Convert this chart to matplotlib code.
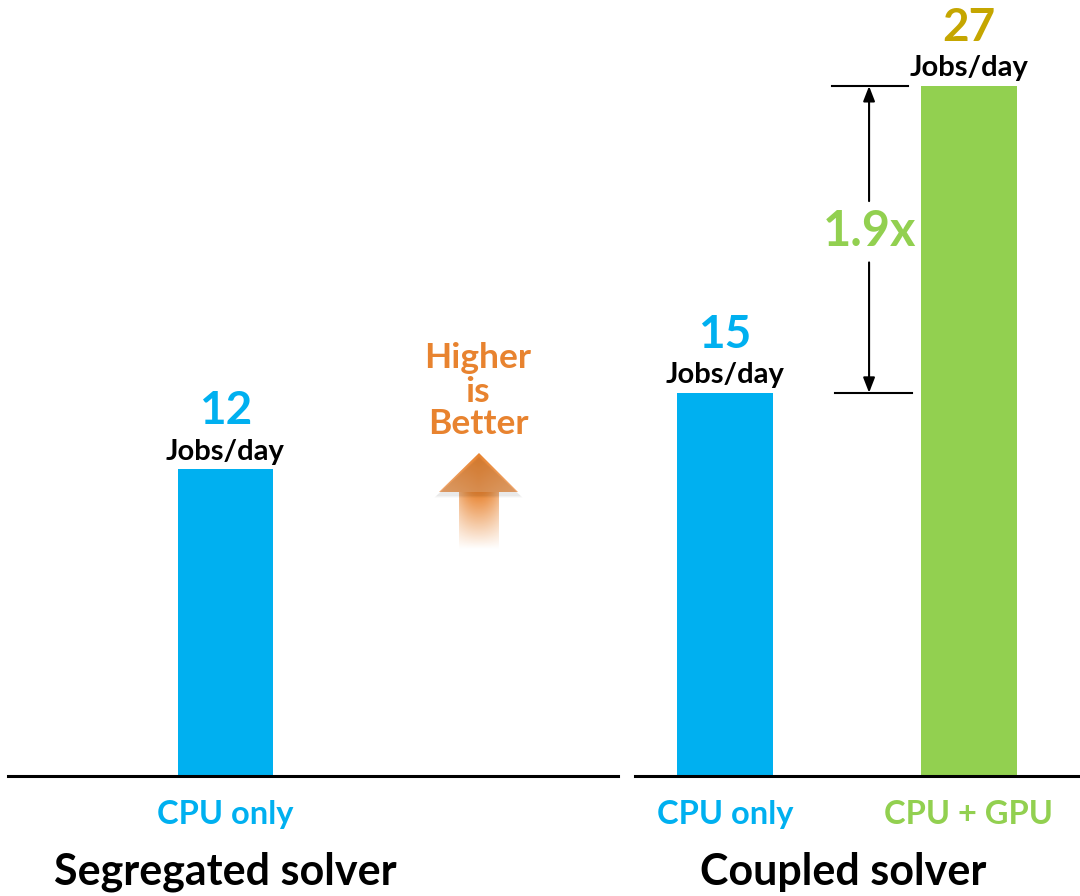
import numpy as np
import matplotlib
matplotlib.use("Agg")
import matplotlib.pyplot as plt
from matplotlib.patches import Polygon
from matplotlib.colors import to_rgb

plt.rcParams['font.family'] = ['Lato', 'DejaVu Sans']
plt.rcParams['font.weight'] = 'bold'

# Data
seg_labels = ["CPU only"]
seg_values = [12]
cpl_labels = ["CPU only", "CPU + GPU"]
cpl_values = [15, 27]
speedup_text = "1.9x"
unit = "Jobs/day"

BLUE = "#00B0F0"
GREEN = "#92D050"
GOLD = "#C5A600"
ORANGE = "#E8832F"

W, H = 1080, 896
fig = plt.figure(figsize=(W / 100, H / 100), dpi=100)

YMAX = 30.37
base_y = (H - 776) / H
ax_h = 776 / H


def setup(ax):
    ax.set_ylim(0, YMAX)
    for s in ("top", "right", "left"):
        ax.spines[s].set_visible(False)
    ax.spines["bottom"].set_linewidth(2.2)
    ax.spines["bottom"].set_color("black")
    ax.set_yticks([])
    ax.tick_params(axis="x", length=0, pad=17, labelsize=23.5)
    ax.patch.set_alpha(0)


# Left panel: segregated solver
axL = fig.add_axes([8 / W, base_y, 610 / W, ax_h])
setup(axL)
xl = np.arange(len(seg_values))
axL.bar(xl, seg_values, width=0.5, color=BLUE, zorder=1)
axL.set_xlim(-1.145, 2.066)
axL.set_xticks(xl, seg_labels)
for t in axL.get_xticklabels():
    t.set_color(BLUE)

# Right panel: coupled solver
axR = fig.add_axes([635 / W, base_y, 445 / W, ax_h])
setup(axR)
xr = np.arange(len(cpl_values))
bar_colors = [BLUE, GREEN]
axR.bar(xr, cpl_values, width=0.39, color=bar_colors, zorder=1)
axR.set_xlim(-0.369, 1.455)
axR.set_xticks(xr, cpl_labels)
for t, c in zip(axR.get_xticklabels(), bar_colors):
    t.set_color(c)


def value_labels(ax, xs, vals, colors):
    for x, v, c in zip(xs, vals, colors):
        ax.annotate(unit, (x, v), xytext=(0, 7), textcoords="offset points",
                    ha="center", va="baseline", fontsize=21, color="black")
        ax.annotate(f"{v}", (x, v), xytext=(0, 32.5), textcoords="offset points",
                    ha="center", va="baseline", fontsize=33, color=c)


value_labels(axL, xl, seg_values, [BLUE])
value_labels(axR, xr, cpl_values, [BLUE, GOLD])

# Speed-up dimension marker between the two coupled bars
tr = axR.get_yaxis_transform()
lo, hi = cpl_values
axR.plot([0.443, 0.613], [hi, hi], transform=tr, color="black", lw=1.5, clip_on=False)
axR.plot([0.449, 0.622], [lo, lo], transform=tr, color="black", lw=1.5, clip_on=False)
mid = (lo + hi) / 2 + 0.3
gap = 1.2
arrow_kw = dict(arrowstyle="-|>,head_length=0.9,head_width=0.35", color="black", lw=1.5,
                shrinkA=0, shrinkB=0)
axR.annotate("", xy=(0.526, hi), xytext=(0.526, mid + gap), xycoords=tr, textcoords=tr,
             arrowprops=arrow_kw)
axR.annotate("", xy=(0.526, lo), xytext=(0.526, mid - gap), xycoords=tr, textcoords=tr,
             arrowprops=arrow_kw)
axR.text(0.526, mid, speedup_text, transform=tr, ha="center", va="center",
         fontsize=35, color=GREEN)

# Panel titles
fig.text(225 / W, 1 - 884 / H, "Segregated solver", ha="center", va="baseline",
         fontsize=31, color="black")
fig.text(843 / W, 1 - 885 / H, "Coupled solver", ha="center", va="baseline",
         fontsize=31, color="black")

# "Higher is Better" callout with a fading arrow
deco = fig.add_axes([0, 0, 1, 1], zorder=-1)
deco.set_xlim(0, W)
deco.set_ylim(H, 0)
deco.axis("off")
for txt, y in (("Higher", 368), ("is", 402), ("Better", 434)):
    deco.text(478, y, txt, ha="center", va="baseline", fontsize=25.5, color=ORANGE)

orng = np.array(to_rgb(ORANGE))
# soft shadow under the arrow head
for k, a in enumerate([0.035, 0.03, 0.02]):
    sh = Polygon([[479, 456 + k], [436 - k, 496 + k], [521 + k, 496 + k]], closed=True,
                 facecolor="black", alpha=a, edgecolor="none")
    deco.add_patch(sh)
# arrow head
head = Polygon([[479, 453], [439, 492], [518, 492]], closed=True, facecolor="none",
               edgecolor="none")
deco.add_patch(head)
gy = np.linspace(0, 1, 64)[:, None]
gx = np.linspace(-1, 1, 64)[None, :]
light = np.array(to_rgb("#F2AE78"))
mix = np.clip(0.55 * gy + 0.35 * np.abs(gx), 0, 1)[..., None]
head_img = (1 - mix) * orng + mix * light
im = deco.imshow(head_img, extent=(439, 518, 492, 453), aspect="auto", interpolation="bilinear")
im.set_clip_path(head)
# shaft fading downwards
sy = np.linspace(0, 1, 80)[:, None]
sx = np.linspace(-1, 1, 40)[None, :]
shaft = np.zeros((80, 40, 4))
shaft[..., :3] = orng
shaft[..., 3] = np.clip(1 - sy * 1.05, 0, 1) * (1 - 0.35 * np.abs(sx) ** 2)
deco.imshow(shaft, extent=(459, 499, 552, 492), aspect="auto", interpolation="bilinear")
deco.set_xlim(0, W)
deco.set_ylim(H, 0)

fig.savefig("out.png", dpi=100)
